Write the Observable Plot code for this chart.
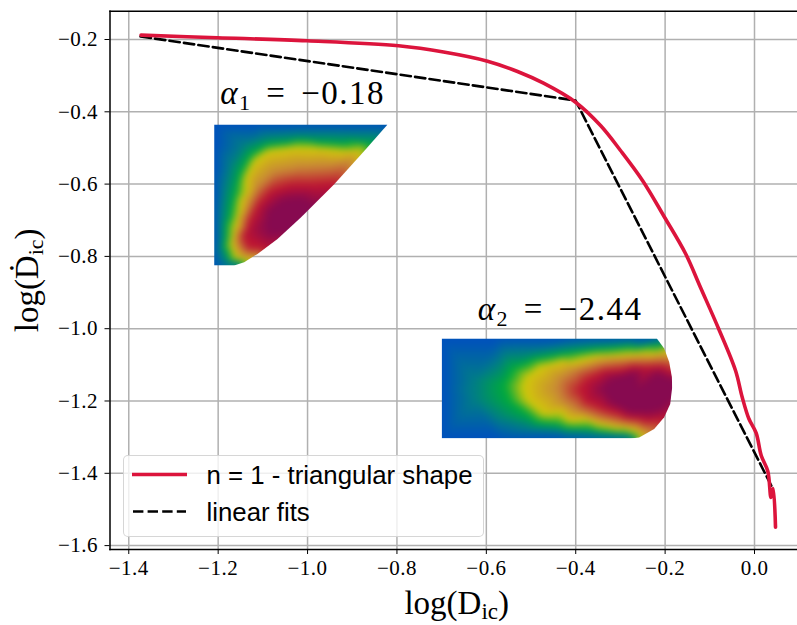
<!DOCTYPE html>
<html><head><meta charset="utf-8">
<script src="https://cdn.jsdelivr.net/npm/d3@7"></script>
<script src="https://cdn.jsdelivr.net/npm/@observablehq/plot@0.6"></script>
<style>
html,body{margin:0;padding:0;background:#fff}
#wrap{position:relative;width:797px;height:625px;overflow:hidden}
#legend{position:absolute;left:122.5px;top:455px;width:359px;height:80px;border:1.5px solid rgba(204,204,204,.8);border-radius:5px;background:rgba(255,255,255,.8);font-family:"Liberation Sans",sans-serif;font-size:25.8px;color:#000}
#legend svg{position:absolute;left:0;top:0}
#legend span{position:absolute;left:83px;white-space:nowrap;line-height:28px}
</style></head><body>
<div id="wrap">
<div id="chart"></div>
<div id="legend">
<svg width="359" height="80"><line x1="8" x2="63" y1="18.5" y2="18.5" stroke="#dc143c" stroke-width="3.6"/><line x1="9" x2="62" y1="55.5" y2="55.5" stroke="#000" stroke-width="2.6" stroke-dasharray="10.4,4.2"/></svg>
<span style="top:5px">n = 1 - triangular shape</span>
<span style="top:42px">linear fits</span>
</div>
</div>
<script>
// Main curve, n = 1 triangular shape
const curveX = [-1.3725,-1.202,-1.0007,-0.7964,-0.6957,-0.5973,-0.5302,-0.472,-0.4004,-0.3445,-0.2998,-0.2506,-0.2013,-0.1544,-0.1208,-0.0805,-0.0425,-0.0275,-0.0128,0.0038,0.015,0.0298,0.0369,0.0418,0.047];
const curveY = [-0.188,-0.195,-0.2036,-0.2175,-0.2346,-0.26,-0.2885,-0.3209,-0.3734,-0.4379,-0.507,-0.59,-0.6916,-0.792,-0.886,-0.9994,-1.1156,-1.1895,-1.2484,-1.289,-1.3508,-1.3942,-1.467,-1.442,-1.549];
// Linear fits
const fitX = [-1.3736,-0.4004,0.04];
const fitY = [-0.1917,-0.3687,-1.44];
// Ticks
const xTicks = [-1.4,-1.2,-1.0,-0.8,-0.6,-0.4,-0.2,0.0];
const yTicks = [-1.6,-1.4,-1.2,-1.0,-0.8,-0.6,-0.4,-0.2];
// Field colour map
const fieldLevels = [0,0.15,0.3,0.45,0.6,0.8,1];
const fieldColors = ["#0050be","#007d87","#00aa3c","#d2c80a","#c88737","#be1432","#870a50"];

// Inset 1 (triangular section): extent in data units, samples in inset-local units
const tri = {x0:-1.209, x1:-0.821, y0:-0.4351, y1:-0.8252, w:520, h:425};
const triOutline = [[40,160],[560,160],[490,240],[400,340],[300,440],[230,505],[170,550],[130,575],[100,585],[40,585],[40,160]];
const triV0 = [[40,160],[170,160],[300,160],[430,160],[560,160],[40,230],[40,300],[40,375],[40,450],[40,520],[40,585],[100,585]];
const triV15 = [[530,190],[430,190],[300,190],[200,195],[130,220],[90,280],[70,360],[60,450],[55,530],[70,570],[95,583]];
const triV30 = [[505,222],[430,222],[350,218],[270,218],[200,225],[150,255],[120,310],[105,370],[90,440],[78,510],[85,550],[105,572],[125,578]];
const triV45 = [[490,237],[430,240],[350,232],[270,230],[200,240],[160,270],[135,320],[118,390],[100,470],[90,525],[100,560],[138,570]];
const triV60 = [[460,272],[380,285],[300,290],[220,305],[170,350],[145,400],[125,470],[115,530],[140,555],[170,550]];
const triV80 = [[400,340],[340,345],[270,345],[210,365],[170,410],[145,460],[130,495],[145,530],[190,535]];
const triV100 = [[335,405],[300,385],[250,390],[205,425],[200,460],[215,490],[260,478],[250,430]];
const triSamples = [[0,triV0],[.15,triV15],[.3,triV30],[.45,triV45],[.6,triV60],[.8,triV80],[1,triV100]];

// Inset 2 (rectangular section)
const rec = {x0:-0.7002, x1:-0.1834, y0:-1.0271, y1:-1.3037, w:692, h:298};
const recOutline = [[33,145],[678,145],[700,175],[715,215],[723,260],[724,290],[718,340],[700,380],[670,415],[625,440],[600,443],[33,443],[33,145]];
const recV0 = [[33,145],[200,145],[400,145],[600,145],[678,145],[33,220],[33,294],[33,370],[33,443],[200,443],[400,443],[600,443]];
const recV15 = [[680,150],[600,155],[500,160],[400,170],[300,185],[200,220],[130,270],[120,295],[130,330],[200,385],[300,415],[400,428],[500,435],[590,440]];
const recV30 = [[690,170],[620,175],[500,182],[400,195],[310,210],[250,235],[220,285],[235,330],[290,370],[380,400],[480,412],[550,425],[610,437]];
const recV45 = [[700,180],[630,188],[500,195],[400,208],[330,228],[290,260],[280,290],[292,330],[340,370],[420,392],[500,403],[560,415],[625,433]];
const recV60 = [[712,205],[600,208],[500,220],[430,240],[390,265],[380,295],[395,330],[440,360],[500,382],[570,398],[650,420]];
const recV80 = [[722,245],[650,232],[570,240],[500,255],[460,280],[450,300],[465,330],[510,350],[570,370],[630,385],[695,385]];
const recV100 = [[725,270],[680,252],[610,250],[550,265],[520,295],[545,335],[600,362],[650,362],[700,350],[720,320],[620,300]];
const recSamples = [[0,recV0],[.15,recV15],[.3,recV30],[.45,recV45],[.6,recV60],[.8,recV80],[1,recV100]];

function toData(box, ox, oy){
  return ([a,b]) => [box.x0 + (a-ox)/box.w*(box.x1-box.x0), box.y0 + (b-oy)/box.h*(box.y1-box.y0)];
}
function field(box, samples, ox, oy){
  const f = toData(box, ox, oy);
  return samples.flatMap(([v,pts]) => pts.map(p => { const [x,y] = f(p); return {x,y,v}; }));
}
function inset(box, samples, outline, ox, oy){
  const f = toData(box, ox, oy);
  return Plot.raster(field(box, samples, ox, oy), {
    x:"x", y:"y", fill:"v",
    x1:box.x0, x2:box.x1, y1:box.y1, y2:box.y0,
    interpolate:"barycentric", pixelSize:1, blur:3,
    clip:{type:"Polygon", coordinates:[outline.map(f)]}
  });
}
const curve = curveX.map((x,i)=>({x,y:curveY[i]}));
const fit = fitX.map((x,i)=>({x,y:fitY[i]}));
const notes = [{x:-1.011,y:-0.35,t:"alpha1"},{x:-0.435,y:-0.948,t:"alpha2"}];

const serif = '"Liberation Serif","DejaVu Serif",serif';
const fmt = d => d3.format(".1f")(d).replace("-","\u2212");
const chart = Plot.plot({
  width:797, height:625,
  marginLeft:109.5, marginRight:0, marginTop:10.7, marginBottom:76,
  style:{fontFamily:serif, fontSize:"18px", background:"#fff", color:"#000"},
  x:{domain:[-1.442,0.0962]},
  y:{domain:[-1.6108,-0.1217]},
  color:{type:"linear", domain:fieldLevels, range:fieldColors, interpolate:"rgb", clamp:true},
  marks:[
    Plot.gridX(xTicks,{stroke:"#b0b0b0",strokeOpacity:1,strokeWidth:1.5}),
    Plot.gridY(yTicks,{stroke:"#b0b0b0",strokeOpacity:1,strokeWidth:1.5}),
    inset(tri, triSamples, triOutline, 40, 160),
    inset(rec, recSamples, recOutline, 33, 145),
    Plot.frame({anchor:"left",stroke:"#000",strokeWidth:1.5}),
    Plot.frame({anchor:"bottom",stroke:"#000",strokeWidth:1.5}),
    Plot.frame({anchor:"top",stroke:"#000",strokeWidth:1.5}),
    Plot.axisX({ticks:xTicks,tickSize:5,tickPadding:6,tickFormat:fmt,label:"log(Dic)",labelArrow:"none",labelAnchor:"center",labelOffset:64}),
    Plot.axisY({ticks:yTicks,tickSize:5,tickPadding:7,tickFormat:fmt,label:"log(\u1E0Aic)",labelArrow:"none",labelAnchor:"center",labelOffset:95}),
    Plot.line(fit,{x:"x",y:"y",stroke:"#000",strokeWidth:2.6,strokeDasharray:"10.4,4.2"}),
    Plot.line(curve,{x:"x",y:"y",stroke:"#dc143c",strokeWidth:3.6,curve:"catmull-rom"}),
    Plot.text(notes,{x:"x",y:"y",text:"t",textAnchor:"middle",fontSize:33,fill:"#000",className:"note"})
  ]
});
document.getElementById("chart").appendChild(chart);
chart.style.display = "block";

function parts(el, list){
  el.textContent = "";
  const s = d3.select(el);
  list.forEach(p => {
    const t = s.append("tspan").text(p.t);
    if (p.sub){ t.attr("font-size",p.sub).attr("dy",p.dy); }
    else if (p.dy){ t.attr("dy",p.dy); }
    if (p.i) t.attr("font-style","italic");
  });
}
// math-style text with subscripts
const svg = d3.select(chart);
svg.selectAll(".note text").each(function(d,i){
  this.style.letterSpacing = "1.5px";
  this.style.wordSpacing = "5px";
  parts(this,[{t:"\u03B1",i:true},{t:i?"2":"1",sub:22,dy:6},{t:" = \u2212"+(i?"2.44":"0.18"),dy:-6}]);
});
svg.selectAll('[aria-label="x-axis label"] text').each(function(){
  this.style.fontSize = "33px";
  parts(this,[{t:"log(D"},{t:"ic",sub:23,dy:5},{t:")",dy:-5}]);
  this.setAttribute("transform", (this.getAttribute("transform")||"") + " translate(3,0)");
});
svg.selectAll('[aria-label="y-axis label"] text').each(function(){
  this.style.fontSize = "33px";
  parts(this,[{t:"log(\u1E0A"},{t:"ic",sub:22,dy:5},{t:")",dy:-5}]);
});
// tick labels: any text that is just a tick number
svg.selectAll("text").filter(function(){ return /^\u2212?\d\.\d$/.test(this.textContent); })
  .each(function(){ this.style.setProperty("font-size","21px","important"); this.setAttribute("font-size","21"); this.style.letterSpacing = "0.5px"; });
</script>
</body></html>
